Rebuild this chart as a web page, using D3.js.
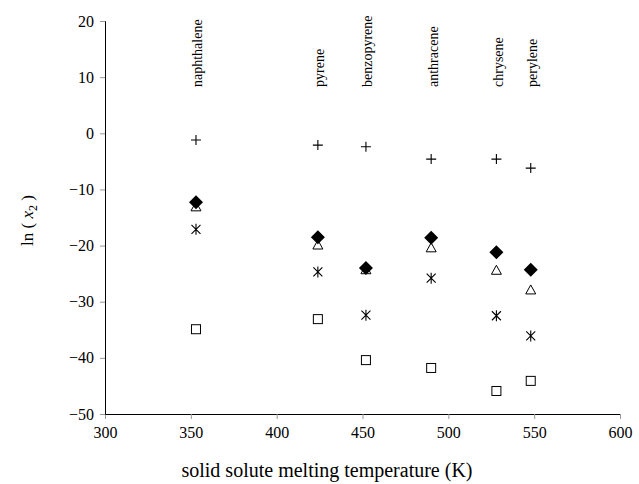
<!DOCTYPE html>
<html>
<head>
<meta charset="utf-8">
<script src="https://cdn.jsdelivr.net/npm/d3@7/dist/d3.min.js"></script>
<style>
  body { margin: 0; background: #fff; }
  svg { display: block; font-family: "Liberation Serif", "Times New Roman", serif; }
</style>
</head>
<body>
<svg id="chart" width="639" height="484"></svg>
<script>
// compounds and their melting temperatures (K)
var compounds = ['naphthalene', 'pyrene', 'benzopyrene', 'anthracene', 'chrysene', 'perylene'];
var meltTemps = [353, 424, 452, 490, 528, 548];

// ln(x2) per series, same order as compounds
var plusValues = [-1.2, -2.1, -2.4, -4.6, -4.6, -6.2];
var triangleValues = [-13.1, -19.9, -24.3, -20.4, -24.4, -27.9];
var starValues = [-17.1, -24.7, -32.4, -25.8, -32.5, -36.1];
var squareValues = [-34.9, -33.1, -40.4, -41.8, -45.9, -44.1];
var diamondValues = [-12.3, -18.5, -24.0, -18.6, -21.2, -24.3];

var xTicks = [300, 350, 400, 450, 500, 550, 600];
var yTicks = [20, 10, 0, -10, -20, -30, -40, -50];

var margin = {top: 21, right: 19, bottom: 70, left: 105};
var width = 639 - margin.left - margin.right;
var height = 484 - margin.top - margin.bottom;

var svg = d3.select('#chart');
var g = svg.append('g')
    .attr('transform', 'translate(' + margin.left + ',' + margin.top + ')');

var x = d3.scaleLinear().domain([300, 600]).range([0, width]);
var y = d3.scaleLinear().domain([-50, 20]).range([height, 0]);

// axes
var xAxis = g.append('g')
    .attr('transform', 'translate(0,' + height + ')')
    .call(d3.axisBottom(x).tickValues(xTicks).tickSize(5).tickPadding(8));
var yAxis = g.append('g')
    .call(d3.axisLeft(y).tickValues(yTicks).tickSize(5).tickPadding(6));

[xAxis, yAxis].forEach(function(ax) {
  ax.select('.domain').attr('stroke', '#000');
  ax.selectAll('.tick line').attr('stroke', '#999');
  ax.selectAll('.tick text')
      .attr('fill', '#000')
      .style('font-family', '"Liberation Serif", serif')
      .style('font-size', '16px');
});

// compound name labels, rotated
g.selectAll('.compound')
    .data(compounds)
  .enter().append('text')
    .attr('class', 'compound')
    .attr('transform', function(d, i) { return 'translate(' + (x(meltTemps[i]) + 1.5) + ',' + (87 - margin.top) + ') rotate(-90)'; })
    .attr('dy', '0.35em')
    .style('font-size', '14px')
    .text(function(d) { return d; });

function points(values) {
  return values.map(function(v, i) { return {x: x(meltTemps[i]), y: y(v)}; });
}

// plus
g.append('g').selectAll('path')
    .data(points(plusValues))
  .enter().append('path')
    .attr('d', function(d) { return 'M' + (d.x - 5) + ',' + d.y + 'H' + (d.x + 5) + 'M' + d.x + ',' + (d.y - 5) + 'V' + (d.y + 5); })
    .attr('stroke', '#000')
    .attr('stroke-width', 1.1)
    .attr('fill', 'none');

// open triangle
g.append('g').selectAll('path')
    .data(points(triangleValues))
  .enter().append('path')
    .attr('d', function(d) { return 'M' + d.x + ',' + (d.y - 5) + 'L' + (d.x + 5) + ',' + (d.y + 4) + 'L' + (d.x - 5) + ',' + (d.y + 4) + 'Z'; })
    .attr('stroke', '#000')
    .attr('stroke-width', 1)
    .attr('fill', '#fff');

// asterisk
g.append('g').selectAll('path')
    .data(points(starValues))
  .enter().append('path')
    .attr('d', function(d) {
      return 'M' + (d.x - 4.5) + ',' + (d.y - 4.5) + 'L' + (d.x + 4.5) + ',' + (d.y + 4.5) +
        'M' + (d.x + 4.5) + ',' + (d.y - 4.5) + 'L' + (d.x - 4.5) + ',' + (d.y + 4.5) +
        'M' + d.x + ',' + (d.y - 5.5) + 'V' + (d.y + 5.5);
    })
    .attr('stroke', '#000')
    .attr('stroke-width', 1.1)
    .attr('fill', 'none');

// open square
g.append('g').selectAll('rect')
    .data(points(squareValues))
  .enter().append('rect')
    .attr('x', function(d) { return d.x - 4.5; })
    .attr('y', function(d) { return d.y - 4.5; })
    .attr('width', 9)
    .attr('height', 9)
    .attr('stroke', '#000')
    .attr('stroke-width', 1)
    .attr('fill', '#fff');

// filled diamond
g.append('g').selectAll('path')
    .data(points(diamondValues))
  .enter().append('path')
    .attr('d', function(d) { return 'M' + d.x + ',' + (d.y - 7) + 'L' + (d.x + 7) + ',' + d.y + 'L' + d.x + ',' + (d.y + 7) + 'L' + (d.x - 7) + ',' + d.y + 'Z'; })
    .attr('fill', '#000');

// axis titles
svg.append('text')
    .attr('x', 327)
    .attr('y', 477)
    .attr('text-anchor', 'middle')
    .style('font-size', '20px')
    .text('solid solute melting temperature (K)');

var yTitle = svg.append('text')
    .attr('transform', 'translate(33,' + (margin.top + height / 2 + 3) + ') rotate(-90)')
    .attr('text-anchor', 'middle')
    .style('font-size', '17px');
yTitle.append('tspan').text('ln ( ');
yTitle.append('tspan').style('font-style', 'italic').text('x');
yTitle.append('tspan').attr('dy', 4).style('font-size', '12px').text('2');
yTitle.append('tspan').attr('dy', -4).text(' )');
</script>
</body>
</html>
